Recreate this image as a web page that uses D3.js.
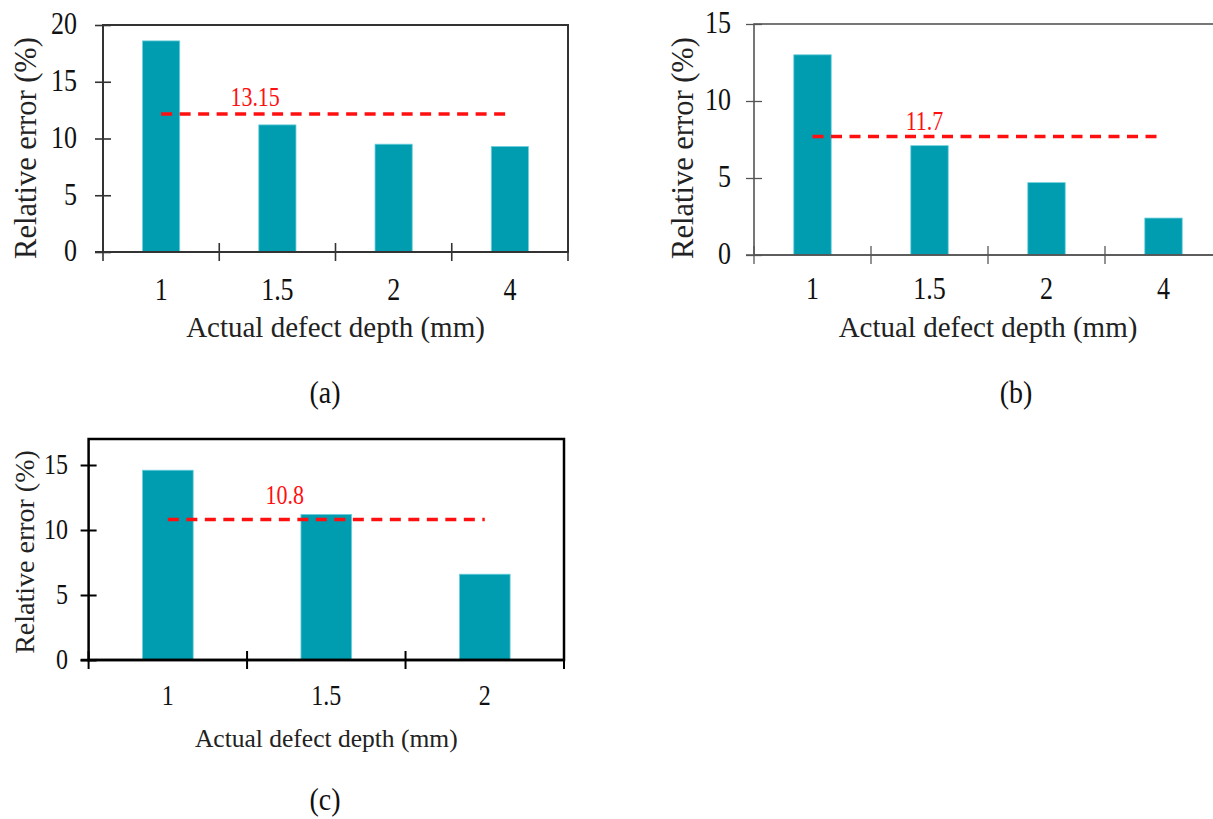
<!DOCTYPE html>
<html>
<head>
<meta charset="utf-8">
<script src="https://cdn.jsdelivr.net/npm/d3@7"></script>
<style>
  body { margin: 0; background: #fff; }
  svg, svg text { font-family: "Liberation Serif", "Times New Roman", serif; }
</style>
</head>
<body>
<div id="chart"></div>
<script>

// data
const depthsAB = ["1", "1.5", "2", "4"];
const depthsC = ["1", "1.5", "2"];
const errorsA = [18.6, 11.2, 9.5, 9.3];
const errorsB = [13.0, 7.1, 4.7, 2.4];
const errorsC = [14.6, 11.2, 6.6];
const meanLines = [12.15, 7.7, 10.8];
const meanLabels = ["13.15", "11.7", "10.8"];
const yMaxes = [20, 15, 17];
const yTicks = [[0, 5, 10, 15, 20], [0, 5, 10, 15], [0, 5, 10, 15]];
const captions = ["(a)", "(b)", "(c)"];
const xTitle = "Actual defect depth (mm)";
const yTitle = "Relative error (%)";

const panels = [
    {cats: depthsAB, vals: errorsA},
    {cats: depthsAB, vals: errorsB},
    {cats: depthsC, vals: errorsC}
];

const serif = "'Liberation Serif', 'Times New Roman', serif";
const stretch = 1.22; // numbers in the figure look taller than plain Times

// layout per panel (pixels)
const layout = [
    {left: 103, right: 568, top: 25, bottom: 252, stroke: "#333", sw: 2,
     tickFs: 26, titleFs: 29, yFs: 30.5, meanFs: 22, yPad: 18, xBase: 48, titleBase: 85,
     yLabX: 36, yLabY: 148, meanDx: 94, meanDy: -8, capX: 325, capY: 403, capFs: 28},
    {left: 754, right: 1222, top: 24, bottom: 255, stroke: "#555", sw: 1.6,
     tickFs: 26, titleFs: 29, yFs: 30.5, meanFs: 22, yPad: 15, xBase: 44, titleBase: 82,
     yLabX: 693, yLabY: 148, meanDx: 112, meanDy: -6, capX: 1016, capY: 403, capFs: 28},
    {left: 88.6, right: 564, top: 439, bottom: 660, stroke: "#000", sw: 2.5,
     tickFs: 24, titleFs: 25.5, yFs: 28, meanFs: 22, yPad: 12.5, xBase: 45, titleBase: 87,
     yLabX: 34, yLabY: 552, meanDx: 117, meanDy: -16, capX: 325, capY: 810, capFs: 28}
];

const svg = d3.select("#chart")
    .append("svg")
    .attr("width", 1213)
    .attr("height", 819)
    .style("background", "#fff");

panels.forEach(function(p, i) {
    const L = layout[i];
    const g = svg.append("g");

    const x = d3.scaleBand()
        .domain(p.cats)
        .range([L.left, L.right])
        .paddingInner(0.68)
        .paddingOuter(0.34);

    const y = d3.scaleLinear()
        .domain([0, yMaxes[i]])
        .range([L.bottom, L.top]);

    // bars
    g.selectAll("rect.bar")
        .data(p.vals)
        .join("rect")
        .attr("class", "bar")
        .attr("x", (d, j) => x(p.cats[j]))
        .attr("y", d => y(d))
        .attr("width", x.bandwidth())
        .attr("height", d => y(0) - y(d))
        .attr("fill", "#009db0")
        .attr("stroke", "#6fd0dc")
        .attr("stroke-width", 0.8);

    // frame
    g.append("rect")
        .attr("x", L.left)
        .attr("y", L.top)
        .attr("width", L.right - L.left)
        .attr("height", L.bottom - L.top)
        .attr("fill", "none")
        .attr("stroke", L.stroke)
        .attr("stroke-width", L.sw);

    // y axis, ticks cross the axis line
    const yAxis = g.append("g")
        .attr("transform", `translate(${L.left},0)`)
        .call(d3.axisLeft(y).tickValues(yTicks[i]).tickSize(8).tickPadding(L.yPad))
        .attr("font-family", serif);
    yAxis.select(".domain").remove();
    yAxis.selectAll(".tick line")
        .attr("x1", -8).attr("x2", 8)
        .attr("stroke", L.stroke)
        .attr("stroke-width", L.sw * 0.8);
    yAxis.selectAll(".tick text")
        .attr("font-size", L.tickFs)
        .attr("dy", (0.34 / stretch) + "em")
        .attr("transform", `scale(1,${stretch})`)
        .attr("fill", "#111");

    // x axis labels at band centres
    const xAxis = g.append("g")
        .attr("transform", `translate(0,${L.bottom})`)
        .call(d3.axisBottom(x).tickSize(0))
        .attr("font-family", serif);
    xAxis.select(".domain").remove();
    xAxis.selectAll(".tick text")
        .attr("y", L.xBase / stretch)
        .attr("dy", 0)
        .attr("transform", `scale(1,${stretch})`)
        .attr("font-size", L.tickFs)
        .attr("fill", "#111");

    // zero line extends left of the axis
    g.append("line")
        .attr("x1", L.left - 8).attr("x2", L.right)
        .attr("y1", y(0)).attr("y2", y(0))
        .attr("stroke", L.stroke)
        .attr("stroke-width", L.sw);

    // category boundary ticks
    const bounds = d3.range(p.cats.length + 1).map(k => L.left + k * x.step());
    g.selectAll("line.bound")
        .data(bounds)
        .join("line")
        .attr("class", "bound")
        .attr("x1", d => d).attr("x2", d => d)
        .attr("y1", y(0) - 9).attr("y2", y(0) + 9)
        .attr("stroke", L.stroke)
        .attr("stroke-width", L.sw * 0.8);

    // mean line
    const first = p.cats[0], last = p.cats[p.cats.length - 1];
    const x0 = x(first) + x.bandwidth() / 2;
    const x1 = x(last) + x.bandwidth() / 2;
    g.append("line")
        .attr("x1", x0).attr("x2", x1)
        .attr("y1", y(meanLines[i])).attr("y2", y(meanLines[i]))
        .attr("stroke", "#ff1010")
        .attr("stroke-width", 3.5)
        .attr("stroke-dasharray", "11,7.5");

    g.append("text")
        .attr("transform", `translate(${x0 + L.meanDx},${y(meanLines[i]) + L.meanDy}) scale(1,${stretch})`)
        .attr("text-anchor", "middle")
        .attr("font-size", L.meanFs)
        .attr("fill", "#ff1010")
        .text(meanLabels[i]);

    // titles
    g.append("text")
        .attr("x", (L.left + L.right) / 2)
        .attr("y", L.bottom + L.titleBase)
        .attr("text-anchor", "middle")
        .attr("font-size", L.titleFs)
        .attr("fill", "#222")
        .text(xTitle);

    g.append("text")
        .attr("transform", `translate(${L.yLabX},${L.yLabY}) rotate(-90)`)
        .attr("text-anchor", "middle")
        .attr("font-size", L.yFs)
        .attr("fill", "#222")
        .text(yTitle);

    g.append("text")
        .attr("transform", `translate(${L.capX},${L.capY}) scale(1,1.1)`)
        .attr("text-anchor", "middle")
        .attr("font-size", L.capFs)
        .attr("fill", "#111")
        .text(captions[i]);
});

</script>
</body>
</html>
